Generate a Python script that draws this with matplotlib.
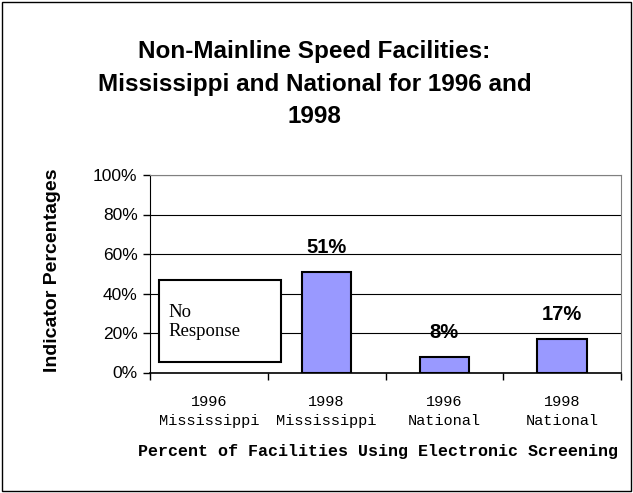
import matplotlib
matplotlib.use("Agg")
import matplotlib.pyplot as plt
from matplotlib.patches import Rectangle

# data
years = ["1996", "1998", "1996", "1998"]
regions = ["Mississippi", "Mississippi", "National", "National"]
values = [None, 51, 8, 17]   # 1996 Mississippi: no response
value_labels = ["", "51%", "8%", "17%"]
y_ticks = [0, 20, 40, 60, 80, 100]

fig = plt.figure(figsize=(6.33, 4.93), dpi=100)
ax = fig.add_axes([150 / 633, 120.5 / 493, 471 / 633, 197.5 / 493])

# outer frame around the whole figure
fig.patches.append(Rectangle((2 / 633, 2 / 493), 629 / 633, 489 / 493,
                             transform=fig.transFigure, fill=False,
                             edgecolor="black", linewidth=1.0))

x = list(range(len(years)))
for i, v in enumerate(values):
    if v is None:
        continue
    ax.bar(i, v, width=0.42, color="#9999FF", edgecolor="black", linewidth=1.5, zorder=3)
    ax.text(i, v + 7.5, value_labels[i], ha="center", va="bottom",
            fontsize=14.5, fontweight="bold", family="Liberation Sans")

# "No Response" box for the missing value
ax.add_patch(Rectangle((-0.424, 5.3), 1.036, 41.5, facecolor="white",
                       edgecolor="black", linewidth=1.5, zorder=4))
ax.text(-0.345, 25.5, "No\nResponse", ha="left", va="center", fontsize=13.5,
        family="Liberation Serif", linespacing=1.2, zorder=5)

ax.set_xlim(-0.5, 3.5)
ax.set_ylim(0, 100)
ax.set_yticks(y_ticks)
ax.set_yticklabels([f"{t}%" for t in y_ticks], fontsize=12.5, family="Liberation Sans")
ax.yaxis.grid(True, color="black", linewidth=0.8, zorder=0)
ax.set_axisbelow(True)

ax.set_xticks(x)
ax.set_xticklabels([f"{y}\n{r}" for y, r in zip(years, regions)],
                   fontsize=11, family="Liberation Mono", linespacing=1.5)
ax.set_xticks([-0.5, 0.5, 1.5, 2.5, 3.5], minor=True)
ax.tick_params(axis="x", which="major", length=0, pad=16)
ax.tick_params(axis="x", which="minor", length=5, width=1)
ax.tick_params(axis="y", length=5, width=1, pad=4)

for s in ["top", "right"]:
    ax.spines[s].set_color("#808080")
ax.spines["left"].set_color("black")
ax.spines["bottom"].set_color("black")
ax.spines["bottom"].set_linewidth(1.2)

ax.set_ylabel("Indicator Percentages", fontsize=14, fontweight="bold",
              family="Liberation Sans")
ax.yaxis.set_label_coords(-0.19, 0.52)
ax.set_xlabel("Percent of Facilities Using Electronic Screening", fontsize=12,
              fontweight="bold", family="Liberation Mono", labelpad=9)
ax.xaxis.set_label_coords(0.485, -0.36)

fig.text(0.497, 1 - 84 / 493, "Non-Mainline Speed Facilities:\nMississippi and National for 1996 and\n1998",
         ha="center", va="center", fontsize=17.5, fontweight="bold",
         family="Liberation Sans", linespacing=1.55)

fig.savefig("out.png", dpi=100)
